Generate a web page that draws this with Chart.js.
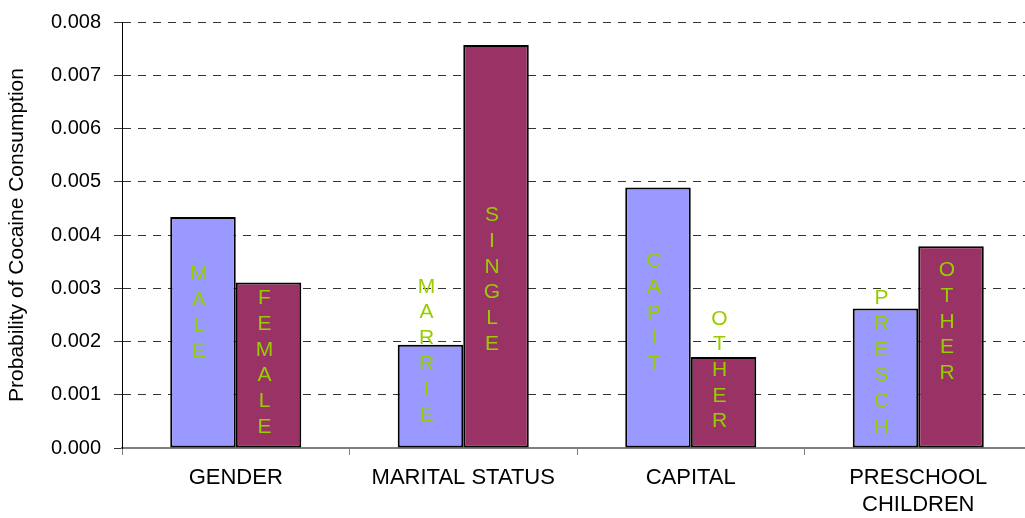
<!DOCTYPE html>
<html>
<head>
<meta charset="utf-8">
<script src="https://cdn.jsdelivr.net/npm/chart.js@4"></script>
<style>
    body { margin: 0; overflow: hidden; background: #fff; }
    #wrap { width: 1032px; height: 518px; }
</style>
</head>
<body>
<div id="wrap"><canvas id="cocaine-chart" width="1032" height="518"></canvas></div>
<script>
const categories = [["GENDER"], ["MARITAL STATUS"], ["CAPITAL"], ["PRESCHOOL", "CHILDREN"]];
const first_values = [0.00434, 0.00194, 0.00489, 0.00262];
const second_values = [0.00311, 0.00757, 0.00171, 0.00379];
const first_labels = ["MALE", "MARRIE", "CAPIT", "PRESCH"];
const second_labels = ["FEMALE", "SINGLE", "OTHER", "OTHER"];
// value where each stacked bar label is centred
const first_label_mid = [0.00254, 0.00182, 0.00254, 0.00160];
const second_label_mid = [0.00160, 0.00316, 0.00146, 0.00237];
const y_ticks = [0, 0.001, 0.002, 0.003, 0.004, 0.005, 0.006, 0.007, 0.008];

const chart = document.getElementById("cocaine-chart");

// draws the yellow-green words letter by letter down each bar
const bar_letters = {
    id: "bar_letters",
    afterDatasetsDraw(c) {
        const ctx = c.ctx;
        const y_scale = c.scales.y;
        const sets = [[first_labels, first_label_mid], [second_labels, second_label_mid]];
        ctx.save();
        ctx.font = "21px 'Liberation Sans', Arial, sans-serif";
        ctx.fillStyle = "#99CC00";
        ctx.textAlign = "center";
        ctx.textBaseline = "middle";
        sets.forEach(([words, mids], ds) => {
            const meta = c.getDatasetMeta(ds);
            meta.data.forEach((bar, i) => {
                const word = words[i];
                const step = 25.7;
                const mid = y_scale.getPixelForValue(mids[i]);
                const start = mid - step * (word.length - 1) / 2;
                for (let k = 0; k < word.length; k++) {
                    ctx.fillText(word[k], bar.x - 4, start + k * step);
                }
            });
        });
        ctx.restore();
    }
};

new Chart(chart, {
    type: "bar",
    data: {
        labels: categories,
        datasets: [{
            data: first_values,
            backgroundColor: "#9999FF",
            borderColor: "#000000",
            borderWidth: 2,
            borderSkipped: false
        }, {
            data: second_values,
            backgroundColor: "#993366",
            borderColor: "#000000",
            borderWidth: 2,
            borderSkipped: false
        }]
    },
    options: {
        responsive: false,
        animation: false,
        layout: { padding: { top: 22, left: 0, right: 0, bottom: 0 } },
        datasets: { bar: { categoryPercentage: 0.576, barPercentage: 1 } },
        plugins: {
            legend: { display: false },
            tooltip: { enabled: false }
        },
        scales: {
            x: {
                grid: {
                    offset: true,
                    drawOnChartArea: false,
                    tickLength: 7,
                    color: "#808080"
                },
                border: { color: "#808080", width: 2 },
                ticks: {
                    color: "#000",
                    padding: 10,
                    maxRotation: 0,
                    font: { family: "'Liberation Sans', Arial, sans-serif", size: 22, lineHeight: 1.2 }
                },
                afterFit: (scale) => { scale.height = 70; }
            },
            y: {
                min: 0,
                max: 0.008,
                afterBuildTicks: (scale) => { scale.ticks = y_ticks.map(v => ({ value: v })); },
                grid: {
                    color: "#333333",
                    lineWidth: 1,
                    tickLength: 8,
                    tickColor: "#333333"
                },
                border: { color: "#000000", width: 1, dash: [8, 7] },
                ticks: {
                    color: "#000",
                    padding: 13,
                    callback: (v) => Number(v).toFixed(3),
                    font: { family: "'Liberation Sans', Arial, sans-serif", size: 20 }
                },
                title: {
                    display: true,
                    text: "Probability of Cocaine Consumption",
                    color: "#000",
                    padding: { top: 5, bottom: 0 },
                    font: { family: "'Liberation Sans', Arial, sans-serif", size: 21, lineHeight: 1.2 }
                },
                afterFit: (scale) => {
                    scale.width = 122;
                    scale.paddingTop = 0;
                    scale.paddingBottom = 0;
                }
            }
        }
    },
    plugins: [bar_letters]
});
</script>
</body>
</html>
